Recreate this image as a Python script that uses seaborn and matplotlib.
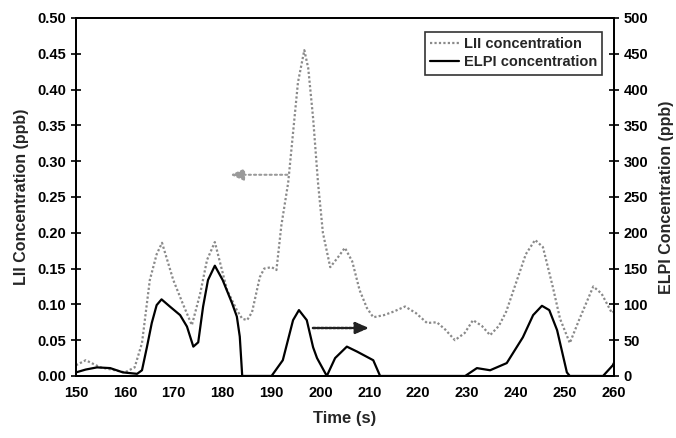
import matplotlib
matplotlib.use("Agg")
import matplotlib.pyplot as plt
import seaborn as sns
import pandas as pd
from matplotlib.ticker import FormatStrFormatter, MultipleLocator

# ---- data ----
lii_time = [150, 152, 155, 158, 160, 162, 163.5, 165.1, 166.5, 167.6, 169.9, 171.9, 173.7,
            175.4, 176.8, 178.4, 180.9, 182.9, 184, 185, 186, 187.6, 188.5, 190, 191,
            192, 193.4, 194.4, 195.4, 196.7, 197.5, 198.5, 199.5, 200.5, 202, 203.5, 205,
            206.5, 208, 209.5, 210.8, 213, 215, 217.3, 219.5, 221.8, 223.8, 225.5, 227.5,
            229.5, 231.2, 233, 234.7, 236.5, 238, 240, 242, 243.9, 245.5, 247.5, 249, 251,
            253, 255.8, 257.5, 259.6, 260]
lii_conc = [0.015, 0.022, 0.012, 0.008, 0.005, 0.012, 0.046, 0.134, 0.170, 0.186, 0.134, 0.100, 0.071,
            0.115, 0.162, 0.187, 0.120, 0.092, 0.080, 0.078, 0.089, 0.138, 0.150, 0.152, 0.148,
            0.210, 0.270, 0.340, 0.410, 0.455, 0.430, 0.360, 0.270, 0.200, 0.152, 0.165, 0.179,
            0.160, 0.120, 0.095, 0.082, 0.085, 0.090, 0.097, 0.088, 0.074, 0.075, 0.065, 0.050,
            0.060, 0.078, 0.070, 0.057, 0.070, 0.090, 0.130, 0.170, 0.190, 0.180, 0.125, 0.080, 0.046,
            0.080, 0.125, 0.115, 0.088, 0.090]

elpi_time = [150, 152, 154.3, 157, 159.6, 162.5, 163.5, 164.5, 165.5, 166.5, 167.5, 169.2, 171.3,
             172.7, 174, 175, 176, 177, 178.4, 180, 181.9, 182.9, 183.5, 184, 190, 192.3, 194.4,
             195.6, 197.2, 198.5, 199.3, 201.3, 203, 205.4, 207.5, 210.8, 212.2, 229.6, 232,
             234.7, 238.1, 241.4, 243.5, 245.3, 246.8, 248.4, 250.4, 251, 257.8, 259.8, 260]
elpi_conc = [5, 9, 12, 11, 5, 3, 8, 40, 74, 99, 107, 97, 85,
             69, 41, 47, 97, 134, 154, 134, 102, 83, 55, 0, 0, 22, 78,
             92, 78, 40, 25, 0, 25, 41, 34, 22, 0, 0, 11,
             8, 18, 54, 85, 98, 92, 64, 5, 0, 0, 15, 18]

lii_df = pd.DataFrame({"time": lii_time, "conc": lii_conc})
elpi_df = pd.DataFrame({"time": elpi_time, "conc": elpi_conc})

# ---- style ----
sns.set_style("white")
plt.rcParams["font.family"] = ["Liberation Sans", "DejaVu Sans"]
plt.rcParams["font.weight"] = "bold"

fig = plt.figure(figsize=(6.76, 4.38), dpi=100)
ax = fig.add_axes([0.1124, 0.1416, 0.7956, 0.8174])
ax2 = ax.twinx()

sns.lineplot(data=lii_df, x="time", y="conc", ax=ax, color="#8a8a8a",
             linestyle=(0, (1, 1)), linewidth=1.6, label="LII concentration", legend=False)
sns.lineplot(data=elpi_df, x="time", y="conc", ax=ax2, color="black",
             linewidth=1.6, label="ELPI concentration", legend=False)

ax.set_xlim(150, 260)
ax.set_ylim(0, 0.5)
ax2.set_ylim(0, 500)
ax.xaxis.set_major_locator(MultipleLocator(10))
ax.yaxis.set_major_locator(MultipleLocator(0.05))
ax2.yaxis.set_major_locator(MultipleLocator(50))
ax.yaxis.set_major_formatter(FormatStrFormatter("%.2f"))

for a in (ax, ax2):
    for s in a.spines.values():
        s.set_color("black")
        s.set_linewidth(1.3)
    a.tick_params(direction="inout", length=7, width=1.2, labelsize=10.5, colors="black")
for lab in ax.get_xticklabels() + ax.get_yticklabels() + ax2.get_yticklabels():
    lab.set_fontweight("bold")

ax.set_xlabel("Time (s)", fontsize=12, fontweight="bold", labelpad=8)
ax.set_ylabel("LII Concentration (ppb)", fontsize=11.5, fontweight="bold", labelpad=6)
ax2.set_ylabel("ELPI Concentration (ppb)", fontsize=11.5, fontweight="bold", labelpad=8)

# arrows
ax.annotate("", xy=(181.0, 0.281), xytext=(193.8, 0.281),
            arrowprops=dict(arrowstyle="-|>,head_length=0.8,head_width=0.35", color="#9a9a9a",
                            linestyle=(0, (1, 1.5)), linewidth=1.5))
ax2.annotate("", xy=(210.5, 67), xytext=(197.9, 67),
             arrowprops=dict(arrowstyle="-|>,head_length=0.8,head_width=0.35", color="#222222",
                             linestyle=(0, (1, 0.6)), linewidth=1.8))

# legend
h1, lb1 = ax.get_legend_handles_labels()
h2, lb2 = ax2.get_legend_handles_labels()
leg = ax2.legend(h1 + h2, lb1 + lb2, loc="upper right", bbox_to_anchor=(0.978, 0.961),
                 borderaxespad=0, frameon=True, fancybox=False, edgecolor="black", fontsize=10.5,
                 handlelength=2.0, handletextpad=0.3, borderpad=0.35, labelspacing=0.3)
leg.get_frame().set_linewidth(1.2)
for t in leg.get_texts():
    t.set_fontweight("bold")

fig.savefig("out.png", dpi=100)
